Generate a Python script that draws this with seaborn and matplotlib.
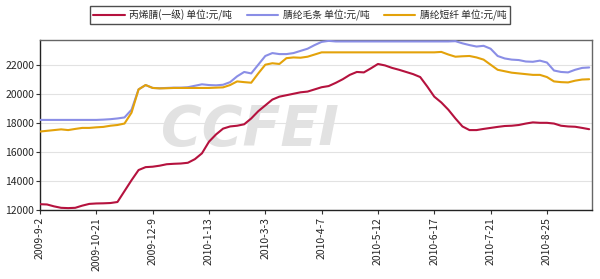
import matplotlib
matplotlib.use("Agg")
import matplotlib.pyplot as plt
import seaborn as sns
import pandas as pd
import numpy as np

tick_labels = ["2009-9-2", "2009-10-21", "2009-12-9", "2010-1-13", "2010-3-3",
               "2010-4-7", "2010-5-12", "2010-6-17", "2010-7-21", "2010-8-25"]
points_per_tick = 8

acrylonitrile = [12400, 12380, 12250, 12150, 12130, 12150, 12300, 12420, 12450, 12460,
                 12480, 12550, 13300, 14050, 14750, 14950, 14980, 15050, 15150, 15180,
                 15200, 15250, 15500, 15900, 16700, 17200, 17600, 17750, 17800, 17900,
                 18300, 18800, 19200, 19600, 19800, 19900, 20000, 20100, 20150, 20300,
                 20450, 20530, 20750, 21000, 21300, 21500, 21470, 21750, 22050, 21950,
                 21780, 21650, 21500, 21350, 21150, 20500, 19800, 19400, 18900, 18300,
                 17750, 17500, 17500, 17580, 17650, 17720, 17780, 17800, 17850, 17950,
                 18030, 18000, 18000, 17950, 17800, 17750, 17730, 17650, 17560]

tops = [18200, 18200, 18200, 18200, 18200, 18200, 18200, 18200, 18200, 18220,
        18250, 18300, 18370, 18900, 20300, 20600, 20400, 20380, 20400, 20420,
        20420, 20450, 20550, 20650, 20600, 20580, 20620, 20800, 21200, 21500,
        21400, 22000, 22600, 22800, 22730, 22730, 22800, 22950, 23100, 23350,
        23570, 23640, 23600, 23600, 23600, 23600, 23600, 23600, 23600, 23600,
        23600, 23600, 23600, 23600, 23600, 23600, 23600, 23600, 23600, 23620,
        23470, 23350, 23250, 23300, 23100, 22600, 22430, 22350, 22320, 22220,
        22200, 22280, 22150, 21600, 21500, 21470, 21650, 21780, 21810]

staple = [17400, 17450, 17500, 17550, 17500, 17580, 17650, 17650, 17690, 17720,
          17800, 17850, 17950, 18700, 20300, 20600, 20400, 20370, 20380, 20400,
          20400, 20400, 20400, 20400, 20400, 20420, 20440, 20600, 20850, 20800,
          20760, 21400, 22000, 22100, 22050, 22450, 22500, 22480, 22550, 22700,
          22850, 22850, 22850, 22850, 22850, 22850, 22850, 22850, 22850, 22850,
          22850, 22850, 22850, 22850, 22850, 22850, 22850, 22880, 22700, 22550,
          22580, 22600, 22500, 22350, 22000, 21650, 21550, 21450, 21400, 21350,
          21300, 21300, 21150, 20850, 20800, 20780, 20900, 20980, 21000]

series_names = ["丙烯腈(一级) 单位:元/吨", "腈纶毛条 单位:元/吨", "腈纶短纤 单位:元/吨"]
colors = ["#b5123e", "#8a8ee6", "#e3a20a"]

sns.set_style("white")
plt.rcParams['font.family'] = ['Noto Sans CJK SC', 'DejaVu Sans']

idx = list(range(len(acrylonitrile)))
df = pd.concat([
    pd.DataFrame({"i": idx, "v": acrylonitrile, "s": series_names[0]}),
    pd.DataFrame({"i": idx, "v": tops, "s": series_names[1]}),
    pd.DataFrame({"i": idx, "v": staple, "s": series_names[2]}),
])

fig = plt.figure(figsize=(6, 2.79), dpi=100)
ax = fig.add_axes([40/600, 1-210/279, 552/600, 170/279])

# watermark
ax.text(0.38, 0.47, "CCFEI", transform=ax.transAxes, fontsize=40, fontweight="bold",
        fontstyle="italic", color="#e2e2e2", ha="center", va="center",
        family="DejaVu Sans", zorder=0)

sns.lineplot(data=df, x="i", y="v", hue="s", palette=colors, ax=ax, linewidth=1.5,
             legend=False, zorder=3)

ax.set_xlim(0, len(idx) - 0.6)
ax.set_ylim(12000, 23700)
ax.set_yticks(np.arange(12000, 23000, 2000))
ax.yaxis.grid(True, color="#e2e2e2", linewidth=0.8)
ax.set_axisbelow(True)
ax.set_xticks([k * points_per_tick for k in range(len(tick_labels))])
ax.set_xticklabels(tick_labels, rotation=90, fontsize=7.5)
ax.tick_params(axis="y", labelsize=7.5, length=3, color="#333333", pad=1, left=True)
ax.tick_params(axis="x", length=3, color="#333333", pad=2, bottom=True)
ax.set_xlabel("")
ax.set_ylabel("")
for side in ["left", "bottom"]:
    ax.spines[side].set_color("#222222")
for side in ["top", "right"]:
    ax.spines[side].set_color("#666666")
for sp in ax.spines.values():
    sp.set_linewidth(1.0)

handles = [plt.Line2D([], [], color=c, linewidth=1.5) for c in colors]
leg = fig.legend(handles, series_names, loc="center", bbox_to_anchor=(300/600, 1-15/279),
                 ncol=3, fontsize=7, frameon=True, fancybox=False, edgecolor="#222222",
                 handlelength=3.2, columnspacing=1.5, borderpad=0.35, handletextpad=0.5)
leg.get_frame().set_linewidth(1.0)

fig.savefig("out.png", dpi=100)
